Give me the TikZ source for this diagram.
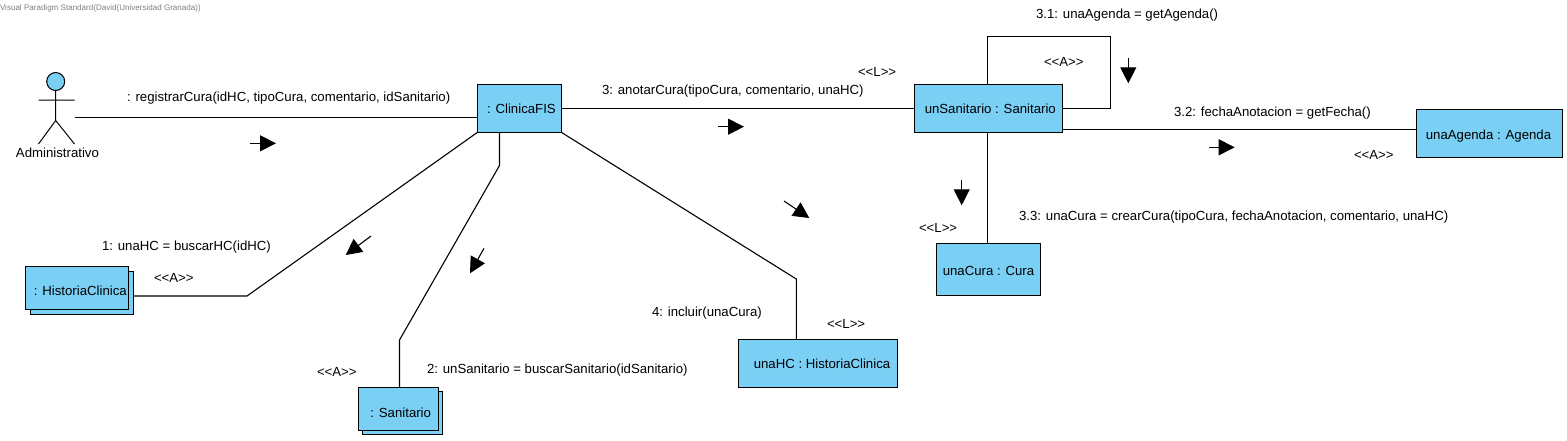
\documentclass[tikz,border=0pt]{standalone}
\usepackage{fontspec}
\setmainfont{Liberation Sans}
\usetikzlibrary{arrows.meta,calc}
\definecolor{objfill}{HTML}{7ACFF5}
\newcommand{\dn}[2]{\raisebox{-#1pt}[\height][0pt]{#2}}
\tikzset{
  objbox/.style={draw=black,fill=objfill,line width=1.2pt,inner sep=0pt,outer sep=0pt,font=\fontsize{13.2}{15}\selectfont,text=black},
  backbox/.style={draw=black,fill=objfill,line width=1.2pt,inner sep=0pt,outer sep=0pt},
  lbl/.style={anchor=base west,inner sep=0pt,outer sep=0pt,font=\fontsize{13.2}{15}\selectfont,text=black},
  stereo/.style={lbl},
  link/.style={draw=black,line width=1.1pt},
  msgarrow/.style={draw=black,line width=1.1pt,-{Triangle[length=16pt,width=16pt,fill=black]}},
  actorline/.style={draw=black,line width=1pt},
}
\begin{document}
\begin{tikzpicture}[x=1pt,y=-1pt]
\useasboundingbox (0,0) rectangle (1567,440);
\node[lbl,font=\fontsize{8.05}{9}\selectfont,text=black!50] (wm) at (0,10) {Visual Paradigm Standard(David(Universidad Granada))};
% boxes
\node[objbox,minimum width=83.8pt,minimum height=48pt] (clinica) at (519.4,108.3) {\hspace*{4pt}: ClinicaFIS};
\node[objbox,minimum width=148pt,minimum height=48pt] (unsan) at (988.3,108.3) {\hspace*{4pt}unSanitario : Sanitario};
\node[objbox,minimum width=146.4pt,minimum height=48pt] (agenda) at (1489.5,133.3) {\dn{1}{\hspace*{-2pt}unaAgenda : Agenda}};
\node[objbox,minimum width=103.6pt,minimum height=52pt] (cura) at (988.5,269.3) {\dn{2}{unaCura : Cura}};
\node[objbox,minimum width=159.4pt,minimum height=48pt] (unahc) at (818,363.3) {\hspace*{8pt}unaHC : HistoriaClinica};
\node[backbox,minimum width=103pt,minimum height=43pt] (hcback) at (81.8,292.8) {};
\node[objbox,minimum width=103pt,minimum height=43pt] (hc) at (76.8,287.8) {\dn{2.5}{\hspace*{7pt}: HistoriaClinica}};
\node[backbox,minimum width=80pt,minimum height=43pt] (sanback) at (402.7,412.8) {};
\node[objbox,minimum width=80pt,minimum height=43pt] (san) at (398.7,408.8) {\dn{3.5}{\hspace*{4pt}: Sanitario}};
% actor
\node[circle,draw=black,fill=objfill,line width=1pt,minimum size=18pt,inner sep=0pt,outer sep=0pt] (head) at (55.7,81.5) {};
\coordinate (hip) at (55.7,120.5);
\coordinate (shl) at (38.5,100);
\coordinate (shr) at (74.5,100);
\coordinate (footl) at (38.5,144);
\coordinate (footr) at (74.5,144);
\coordinate (hand) at (75,117.3);
\draw[actorline] (head) -- (hip) (shl) -- (shr) (footl) -- (hip) -- (footr);
\node[lbl] (actname) at (16,157.5) {Administrativo};
% connectors
\draw[link] (hand) -- (hand -| clinica.west);
\draw[link] (clinica.east) -- (unsan.west);
\coordinate (hcbend) at (247,296);
\draw[link] (clinica.south west) -- (hcbend) -- (hcbend -| hcback.east);
\coordinate (sanb) at (499.5,165.5);
\coordinate (sanc) at (399.5,340);
\draw[link] (sanb |- clinica.south) -- (sanb) -- (sanc) -- (sanc |- san.north);
\coordinate (hcb) at (796.3,279);
\draw[link] (clinica.south east) -- (hcb) -- (hcb |- unahc.north);
\coordinate (loopne) at (1110.3,36.5);
\coordinate (unsx) at (987.7,0);
\draw[link] (unsx |- unsan.north) -- (unsx |- loopne) -- (loopne) -- (loopne |- unsan.east) -- (unsan.east);
\coordinate (agl) at (1062.3,129.3);
\draw[link] (agl) -- (agl -| agenda.west);
\draw[link] (unsx |- unsan.south) -- (unsx |- cura.north);
% message arrows
\coordinate (m0a) at (250,143.3); \coordinate (m0b) at (276,143.3);
\coordinate (m3a) at (718,126.7); \coordinate (m3b) at (744,126.7);
\coordinate (m31a) at (1128.3,58.3); \coordinate (m31b) at (1128.3,83.3);
\coordinate (m32a) at (1209,147.3); \coordinate (m32b) at (1234.7,147.3);
\coordinate (m33a) at (961.7,180); \coordinate (m33b) at (961.7,205.3);
\coordinate (m1a) at (371,236); \coordinate (m1b) at (345.7,255);
\coordinate (m2a) at (484,248.3); \coordinate (m2b) at (470,273.3);
\coordinate (m4a) at (784,201); \coordinate (m4b) at (809.3,218);
\foreach \k in {0,3,31,32,33,1,2,4} {\draw[msgarrow] (m\k a) -- (m\k b);}
% labels
\node[lbl] (t0) at (127,101.5) {: registrarCura(idHC, tipoCura, comentario, idSanitario)};
\node[lbl] (t1) at (102,250.5) {1: unaHC = buscarHC(idHC)};
\node[stereo] (s1) at (154,282.5) {<{}<A>{}>};
\node[stereo] (s2) at (317,376.5) {<{}<A>{}>};
\node[lbl] (t2) at (427,373.5) {2: unSanitario = buscarSanitario(idSanitario)};
\node[lbl] (t4) at (652,316.5) {4: incluir(unaCura)};
\node[stereo] (s4) at (827,328.5) {<{}<L>{}>};
\node[lbl] (t3) at (602,94.5) {3: anotarCura(tipoCura, comentario, unaHC)};
\node[stereo] (s3) at (858,76.5) {<{}<L>{}>};
\node[stereo] (s31) at (1044,66.5) {<{}<A>{}>};
\node[lbl] (t31) at (1036,18.5) {3.1: unaAgenda = getAgenda()};
\node[lbl] (t32) at (1174,116.5) {3.2: fechaAnotacion = getFecha()};
\node[stereo] (s32) at (1354,159.5) {<{}<A>{}>};
\node[lbl] (t33) at (1019,220.5) {3.3: unaCura = crearCura(tipoCura, fechaAnotacion, comentario, unaHC)};
\node[stereo] (s33) at (919,232.5) {<{}<L>{}>};
\end{tikzpicture}
\end{document}
